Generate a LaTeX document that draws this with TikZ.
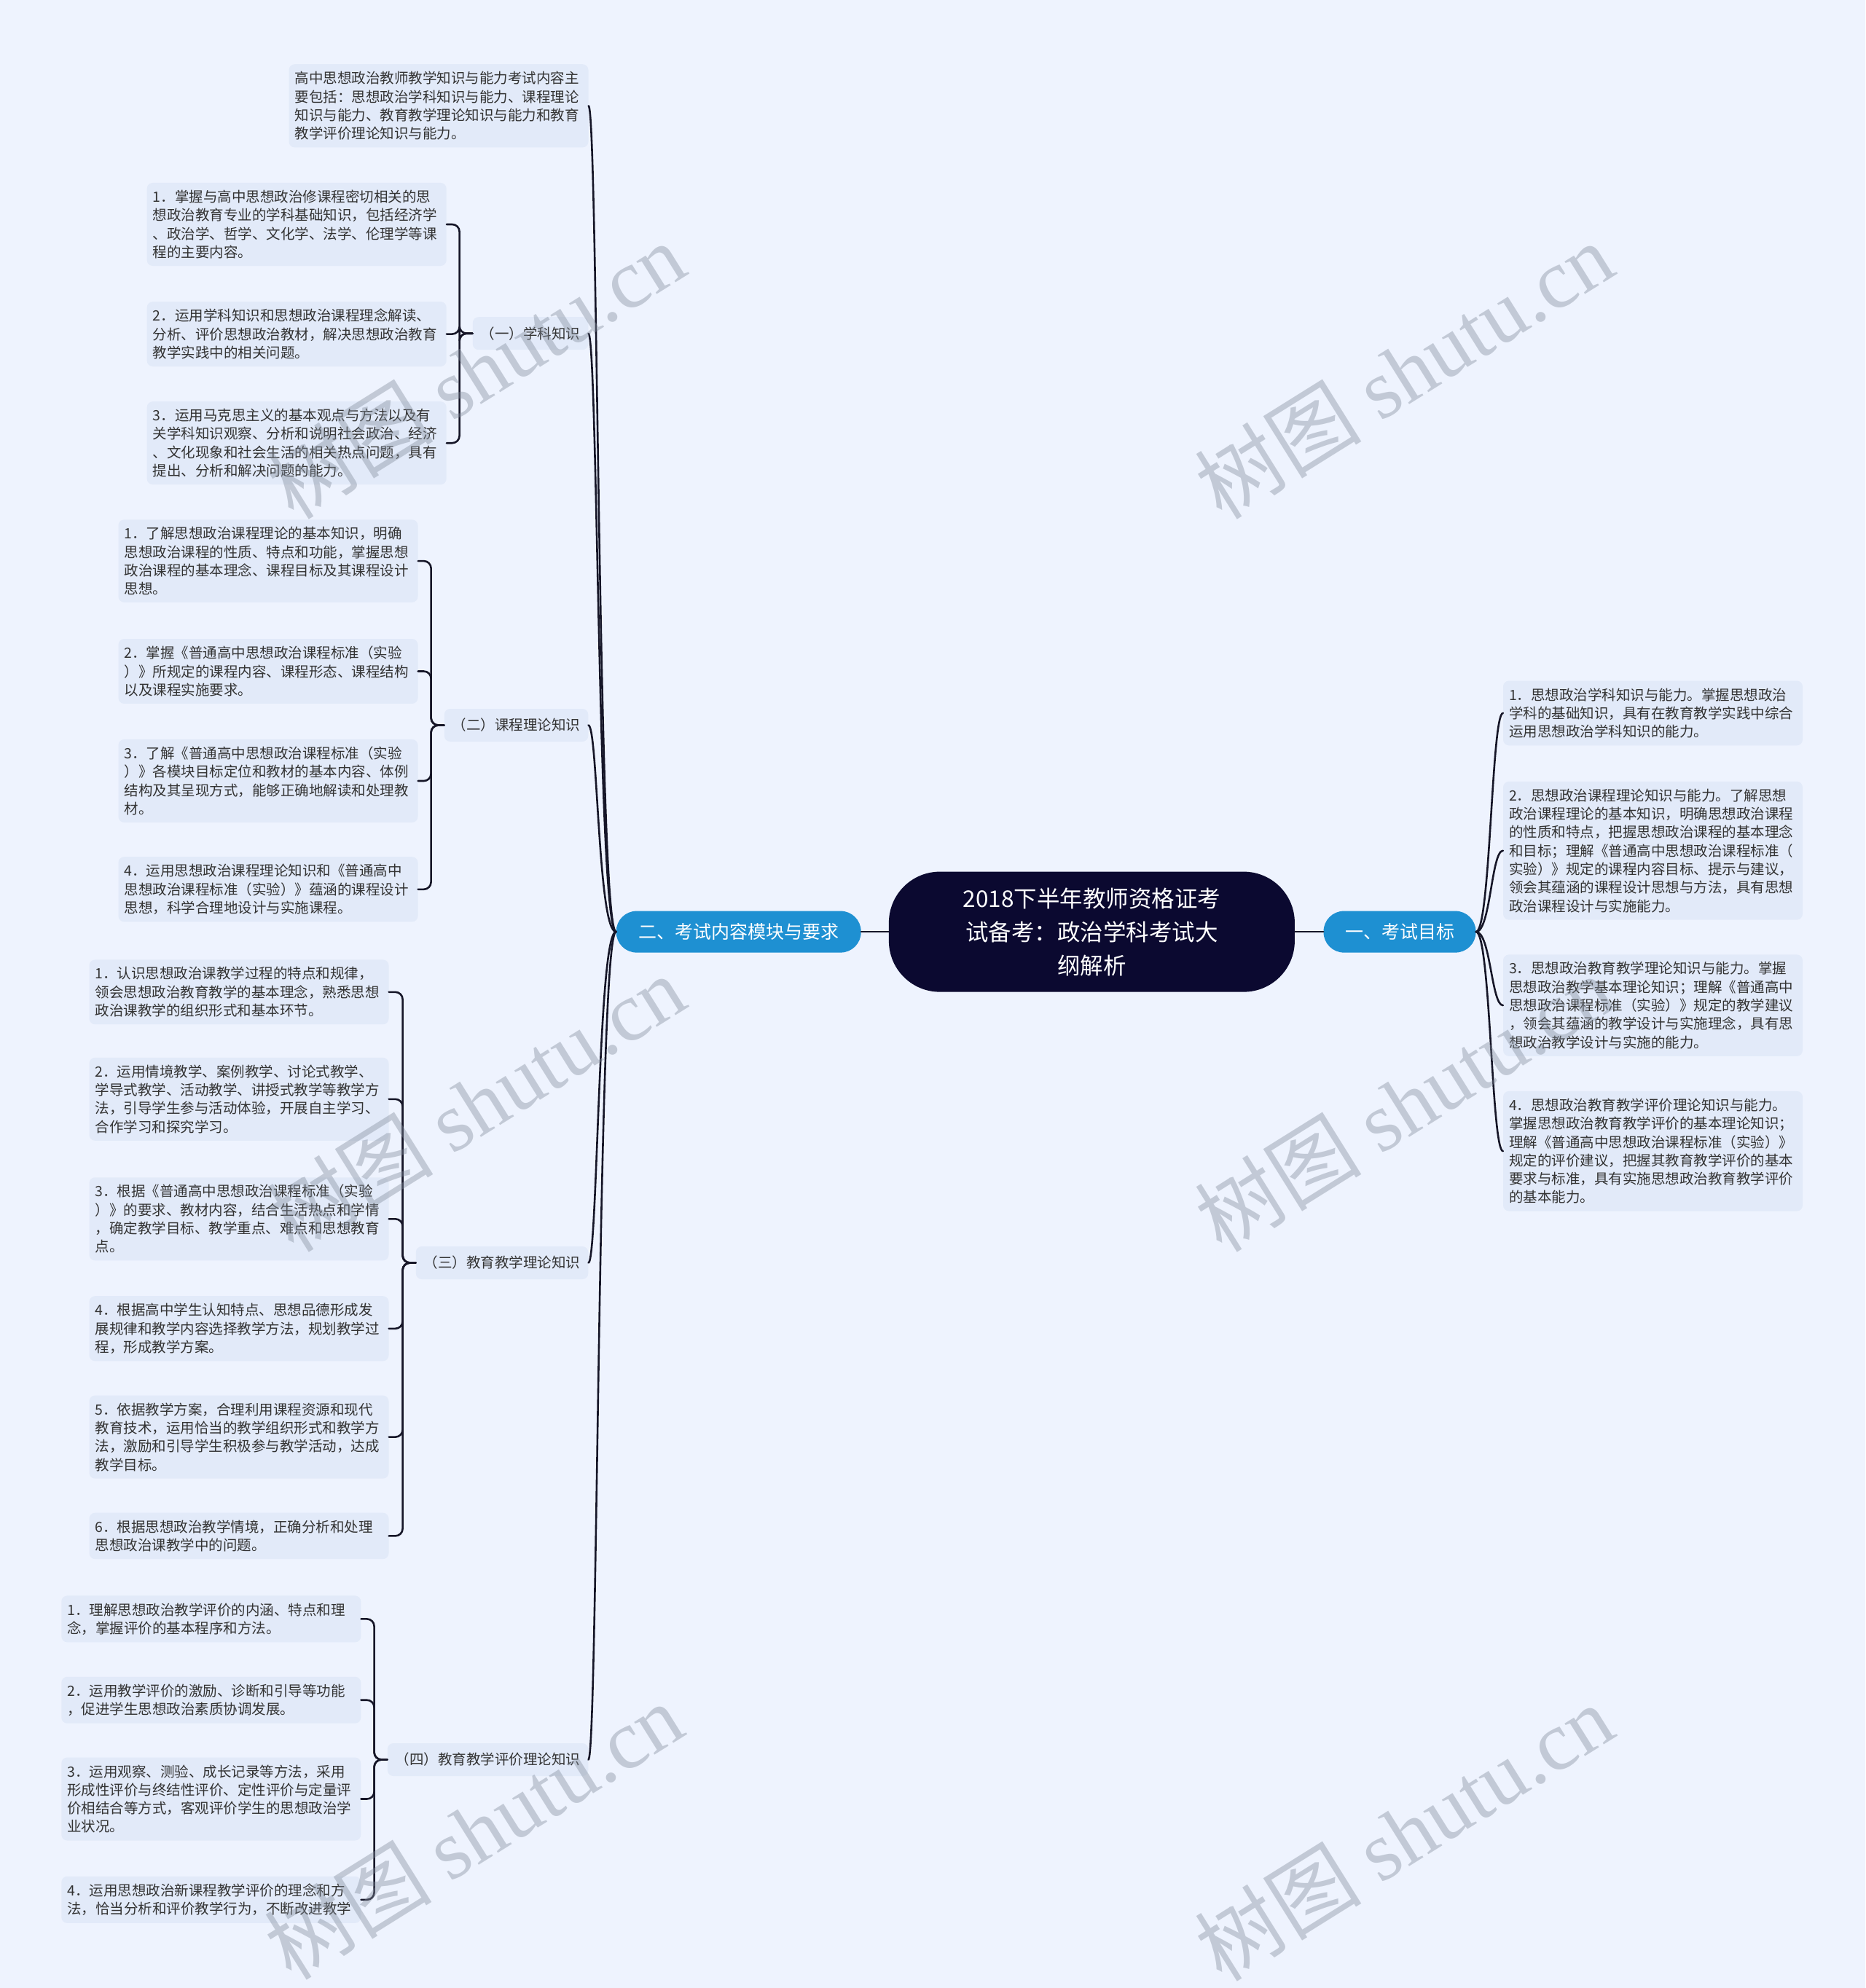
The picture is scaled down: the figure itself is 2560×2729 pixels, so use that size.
\documentclass[tikz,border=0pt]{standalone}
\usepackage{fontspec}
\setmainfont{Noto Sans CJK SC}
\newfontfamily\wmlatin{Liberation Serif}
\definecolor{bgc}{HTML}{EEF3FE}
\definecolor{boxc}{HTML}{E2EAF9}
\definecolor{txtc}{HTML}{333333}
\definecolor{rootc}{HTML}{0B0930}
\definecolor{brc}{HTML}{1E90D2}
\definecolor{linec}{HTML}{161628}
\definecolor{wmc}{HTML}{828C9B}
\begin{document}
\begin{tikzpicture}[x=1pt,y=-1pt,
 leaf/.style={fill=boxc, rounded corners=8pt, text=txtc, align=left, text width=395pt, inner xsep=8pt, inner ysep=10pt, font=\fontsize{19.5}{25.3}\selectfont},
 cat/.style={fill=boxc, rounded corners=8pt, text=txtc, inner xsep=11pt, minimum height=45pt, font=\fontsize{19.5}{25.3}\selectfont, anchor=east},
 rootbox/.style={fill=rootc, text=white, align=center, minimum width=557pt, minimum height=165pt, rounded corners=70pt, font=\fontsize{31.5}{46}\selectfont},
 branch/.style={fill=brc, text=white, minimum height=57pt, rounded corners=28pt, font=\fontsize{25}{30}\selectfont},
 conn/.style={draw=linec, line width=2.6pt, line cap=round},
 wm/.style={text=wmc, opacity=0.4, rotate=32, font=\fontsize{115}{120}\selectfont}
]
\useasboundingbox (0,0) rectangle (2560,2729);
\fill[bgc] (0,0) rectangle (2560,2729);

% root and branches
\node[rootbox] (root) at (1498.4,1279.1) {2018下半年教师资格证考\\试备考：政治学科考试大\\纲解析};
\node[branch, minimum width=209pt] (rb) at (1921,1279.1) {一、考试目标};
\node[branch, minimum width=336pt] (lb) at (1013.7,1279.1) {二、考试内容模块与要求};

% left first level
\node[leaf] (c0) at (602,145.3) {高中思想政治教师教学知识与能力考试内容主\\要包括：思想政治学科知识与能力、课程理论\\知识与能力、教育教学理论知识与能力和教育\\教学评价理论知识与能力。};
\node[cat] (c1) at (807.5,457.7) {（一）学科知识};
\node[cat] (c2) at (807.5,995.5) {（二）课程理论知识};
\node[cat] (c3) at (807.5,1733.5) {（三）教育教学理论知识};
\node[cat] (c4) at (807.5,2415.5) {（四）教育教学评价理论知识};

% (一)
\node[leaf] (l1a) at (407.2,308) {1．掌握与高中思想政治修课程密切相关的思\\想政治教育专业的学科基础知识，包括经济学\\、政治学、哲学、文化学、法学、伦理学等课\\程的主要内容。};
\node[leaf] (l1b) at (407.2,458.6) {2．运用学科知识和思想政治课程理念解读、\\分析、评价思想政治教材，解决思想政治教育\\教学实践中的相关问题。};
\node[leaf] (l1c) at (407.2,608.2) {3．运用马克思主义的基本观点与方法以及有\\关学科知识观察、分析和说明社会政治、经济\\、文化现象和社会生活的相关热点问题，具有\\提出、分析和解决问题的能力。};

% (二)
\node[leaf] (l2a) at (368,770.1) {1．了解思想政治课程理论的基本知识，明确\\思想政治课程的性质、特点和功能，掌握思想\\政治课程的基本理念、课程目标及其课程设计\\思想。};
\node[leaf] (l2b) at (368,921.5) {2．掌握《普通高中思想政治课程标准（实验\\）》所规定的课程内容、课程形态、课程结构\\以及课程实施要求。};
\node[leaf] (l2c) at (368,1072) {3．了解《普通高中思想政治课程标准（实验\\）》各模块目标定位和教材的基本内容、体例\\结构及其呈现方式，能够正确地解读和处理教\\材。};
\node[leaf] (l2d) at (368,1220.8) {4．运用思想政治课程理论知识和《普通高中\\思想政治课程标准（实验）》蕴涵的课程设计\\思想，科学合理地设计与实施课程。};

% (三)
\node[leaf] (l3a) at (328,1361.8) {1．认识思想政治课教学过程的特点和规律，\\领会思想政治教育教学的基本理念，熟悉思想\\政治课教学的组织形式和基本环节。};
\node[leaf] (l3b) at (328,1508.8) {2．运用情境教学、案例教学、讨论式教学、\\学导式教学、活动教学、讲授式教学等教学方\\法，引导学生参与活动体验，开展自主学习、\\合作学习和探究学习。};
\node[leaf] (l3c) at (328,1673.3) {3．根据《普通高中思想政治课程标准（实验\\）》的要求、教材内容，结合生活热点和学情\\，确定教学目标、教学重点、难点和思想教育\\点。};
\node[leaf] (l3d) at (328,1823.8) {4．根据高中学生认知特点、思想品德形成发\\展规律和教学内容选择教学方法，规划教学过\\程，形成教学方案。};
\node[leaf] (l3e) at (328,1972.6) {5．依据教学方案，合理利用课程资源和现代\\教育技术，运用恰当的教学组织形式和教学方\\法，激励和引导学生积极参与教学活动，达成\\教学目标。};
\node[leaf] (l3f) at (328,2108.4) {6．根据思想政治教学情境，正确分析和处理\\思想政治课教学中的问题。};

% (四)
\node[leaf] (l4a) at (289.8,2222.4) {1．理解思想政治教学评价的内涵、特点和理\\念，掌握评价的基本程序和方法。};
\node[leaf] (l4b) at (289.8,2333.7) {2．运用教学评价的激励、诊断和引导等功能\\，促进学生思想政治素质协调发展。};
\node[leaf] (l4c) at (289.8,2469.5) {3．运用观察、测验、成长记录等方法，采用\\形成性评价与终结性评价、定性评价与定量评\\价相结合等方式，客观评价学生的思想政治学\\业状况。};
\node[leaf] (l4d) at (289.8,2607.8) {4．运用思想政治新课程教学评价的理念和方\\法，恰当分析和评价教学行为，不断改进教学};

% right leaves
\node[leaf] (r1) at (2268.5,978.9) {1．思想政治学科知识与能力。掌握思想政治\\学科的基础知识，具有在教育教学实践中综合\\运用思想政治学科知识的能力。};
\node[leaf] (r2) at (2268.5,1167.7) {2．思想政治课程理论知识与能力。了解思想\\政治课程理论的基本知识，明确思想政治课程\\的性质和特点，把握思想政治课程的基本理念\\和目标；理解《普通高中思想政治课程标准（\\实验）》规定的课程内容目标、提示与建议，\\领会其蕴涵的课程设计思想与方法，具有思想\\政治课程设计与实施能力。};
\node[leaf] (r3) at (2268.5,1380.1) {3．思想政治教育教学理论知识与能力。掌握\\思想政治教学基本理论知识；理解《普通高中\\思想政治课程标准（实验）》规定的教学建议\\，领会其蕴涵的教学设计与实施理念，具有思\\想政治教学设计与实施的能力。};
\node[leaf] (r4) at (2268.5,1580.2) {4．思想政治教育教学评价理论知识与能力。\\掌握思想政治教育教学评价的基本理论知识；\\理解《普通高中思想政治课程标准（实验）》\\规定的评价建议，把握其教育教学评价的基本\\要求与标准，具有实施思想政治教育教学评价\\的基本能力。};

% connectors
\draw[conn] (root.west) -- (lb.east);
\draw[conn] (root.east) -- (rb.west);
\foreach \c in {c0,c1,c2,c3,c4}
  \draw[conn] (lb.west) .. controls +(-25,0) and +(13,0) .. (\c.east);
\foreach \r in {r1,r2,r3,r4}
  \draw[conn] (rb.east) .. controls +(20,0) and +(-16,0) .. (\r.west);
\foreach \p/\k in {c1/l1a,c1/l1b,c1/l1c,c2/l2a,c2/l2b,c2/l2c,c2/l2d,c3/l3a,c3/l3b,c3/l3c,c3/l3d,c3/l3e,c3/l3f,c4/l4a,c4/l4b,c4/l4c,c4/l4d}
  \draw[conn, rounded corners=10pt] (\p.west) -- ++(-18,0) |- (\k.east);

% watermarks
\node[wm] (wm1) at (652.6,508) {树图 {\wmlatin shutu.cn}};
\node[wm] (wm2) at (1926.5,508) {树图 {\wmlatin shutu.cn}};
\node[wm] (wm3) at (652.6,1514) {树图 {\wmlatin shutu.cn}};
\node[wm] (wm4) at (1926.5,1514) {树图 {\wmlatin shutu.cn}};
\node[wm] (wm5) at (650,2513) {树图 {\wmlatin shutu.cn}};
\node[wm] (wm6) at (1926.5,2515) {树图 {\wmlatin shutu.cn}};
\end{tikzpicture}
\end{document}
